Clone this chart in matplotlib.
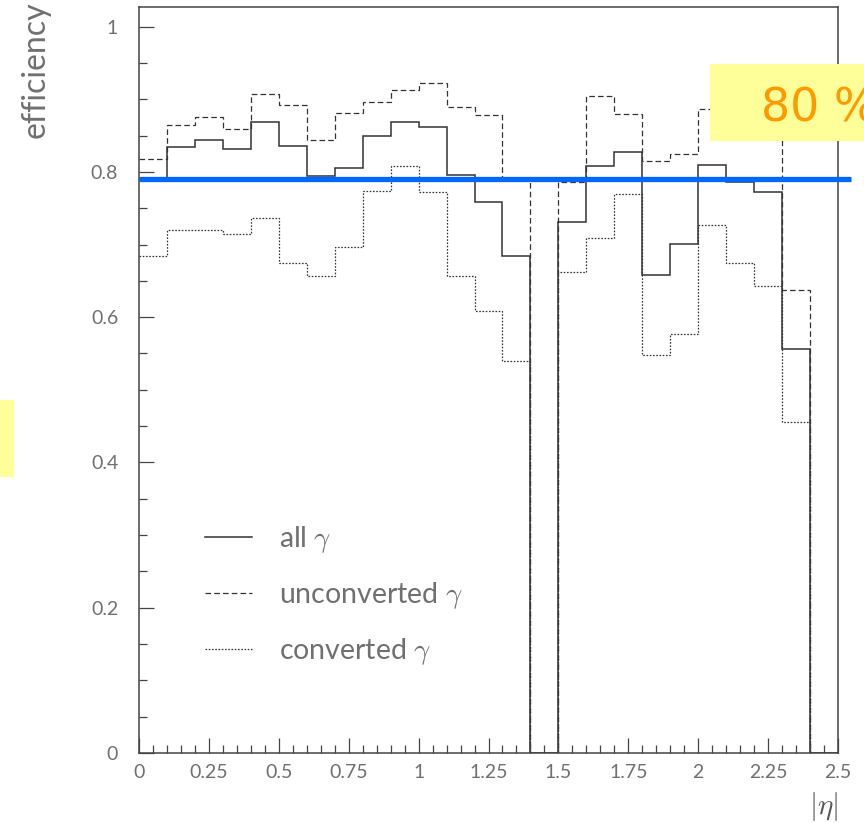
import numpy as np
import matplotlib
matplotlib.use("Agg")
import matplotlib.pyplot as plt
from matplotlib.patches import Rectangle
from matplotlib.ticker import MultipleLocator, FixedLocator, FuncFormatter

# ---- data ----
eta_edges = np.round(np.arange(26) * 0.1, 2)  # |eta| bin edges, 0.1 wide
all_gamma = [0.790, 0.834, 0.844, 0.832, 0.869, 0.836, 0.795, 0.806, 0.850, 0.868,
             0.862, 0.796, 0.758, 0.684, 0.000, 0.731, 0.808, 0.827, 0.658, 0.701,
             0.810, 0.786, 0.772, 0.556, 0.000]
unconverted_gamma = [0.818, 0.864, 0.875, 0.859, 0.907, 0.892, 0.844, 0.881, 0.896, 0.913,
                     0.923, 0.890, 0.878, 0.790, 0.000, 0.786, 0.904, 0.880, 0.815, 0.825,
                     0.886, 0.880, 0.870, 0.637, 0.000]
converted_gamma = [0.684, 0.720, 0.720, 0.715, 0.737, 0.675, 0.657, 0.696, 0.774, 0.808,
                   0.773, 0.657, 0.609, 0.539, 0.000, 0.662, 0.709, 0.769, 0.548, 0.577,
                   0.727, 0.674, 0.643, 0.456, 0.000]
threshold = 0.79
threshold_label = "80 %"
series_labels = [r"all $\gamma$", r"unconverted $\gamma$", r"converted $\gamma$"]
x_major_ticks = [0, 0.25, 0.5, 0.75, 1, 1.25, 1.5, 1.75, 2, 2.25, 2.5]
y_major_ticks = [0, 0.2, 0.4, 0.6, 0.8, 1]

# ---- style ----
plt.rcParams['font.family'] = ['Lato', 'DejaVu Sans']
plt.rcParams['mathtext.fontset'] = 'cm'

W, H = 864, 823
fig = plt.figure(figsize=(W / 100, H / 100), dpi=100)
ax_l, ax_r, ax_b, ax_t = 139, 838, 753, 7
ax = fig.add_axes([ax_l / W, (H - ax_b) / H, (ax_r - ax_l) / W, (ax_b - ax_t) / H])

frame_c = '#444444'
text_c = '#707070'
s1 = ax.stairs(all_gamma, eta_edges, baseline=None, color='#333333', lw=1.1,
               label=series_labels[0])
s2 = ax.stairs(unconverted_gamma, eta_edges, baseline=None, color='#333333', lw=0.9,
               linestyle=(0, (4.5, 2.5)), label=series_labels[1])
s3 = ax.stairs(converted_gamma, eta_edges, baseline=None, color='#333333', lw=0.9,
               linestyle=(0, (1.3, 1.3)), label=series_labels[2])

ax.set_xlim(0, 2.5)
ax.set_ylim(0, 1.027)

for sp in ax.spines.values():
    sp.set_color(frame_c)
    sp.set_linewidth(1.1)

ax.xaxis.set_major_locator(FixedLocator(x_major_ticks))
ax.xaxis.set_minor_locator(MultipleLocator(0.05))
ax.yaxis.set_major_locator(FixedLocator(y_major_ticks))
ax.yaxis.set_minor_locator(MultipleLocator(0.05))

def fmt(v, pos):
    return ('%.2f' % v).rstrip('0').rstrip('.')
ax.xaxis.set_major_formatter(FuncFormatter(fmt))
ax.yaxis.set_major_formatter(FuncFormatter(fmt))

ax.tick_params(which='major', direction='in', length=10.5, width=0.9, color=frame_c,
               labelsize=14, labelcolor=text_c)
ax.tick_params(which='minor', direction='in', length=5.5, width=0.9, color=frame_c)
ax.tick_params(axis='x', which='major', pad=8)
ax.tick_params(axis='y', which='major', pad=15)

ax.set_ylabel('efficiency', loc='top', fontsize=23, color=text_c)
ax.yaxis.set_label_coords(-0.127, 1.008)
ax.set_xlabel(r'$|\eta|$', loc='right', fontsize=21, color='#555555')
ax.xaxis.set_label_coords(1.0, -0.05)

leg = ax.legend(handles=[s1, s2, s3], loc='upper left', bbox_to_anchor=(0.094, 0.307),
                frameon=False, fontsize=20.5, handlelength=1.65, handletextpad=0.95,
                labelspacing=0.88, borderpad=0, borderaxespad=0)
for t in leg.get_texts():
    t.set_color(text_c)

# threshold line (extends slightly beyond the frame)
ax.plot([0, 2.546], [threshold, threshold], color='#0066ff', lw=3.8,
        solid_capstyle='butt', clip_on=False, zorder=5)

# yellow highlight boxes (figure pixel coordinates)
fig.patches.append(Rectangle((710 / W, (H - 141) / H), (W - 710) / W + 0.01, 77 / H,
                             transform=fig.transFigure, facecolor='#ffff99',
                             edgecolor='none', zorder=10))
fig.patches.append(Rectangle((0, (H - 477) / H), 14 / W, 77 / H,
                             transform=fig.transFigure, facecolor='#ffff99',
                             edgecolor='none', zorder=10))
fig.text(761 / W, (H - 122) / H, threshold_label, color='#ff9900', fontsize=33,
         family=['DejaVu Sans'], ha='left', va='baseline', zorder=11)

fig.savefig('out.png', dpi=100)
